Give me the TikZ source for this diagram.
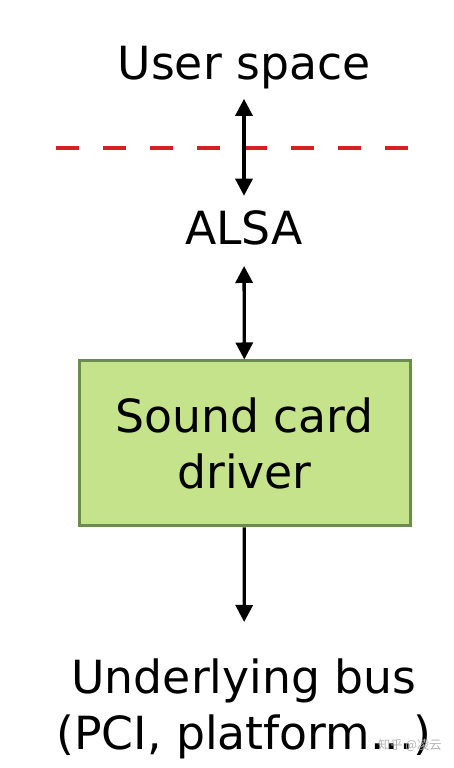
\documentclass[tikz,border=0pt]{standalone}
\usepackage{fontspec}
\setmainfont{DejaVu Sans}
\newfontfamily\cjkfont{Noto Sans CJK SC}
\usetikzlibrary{arrows.meta, positioning}
\definecolor{drivergreen}{RGB}{197, 227, 139}
\definecolor{driverborder}{RGB}{108, 140, 78}
\definecolor{borderred}{RGB}{212, 32, 32}

\begin{document}
\begin{tikzpicture}[
        label/.style={inner sep=0pt, font=\fontsize{26}{32.3}\selectfont, align=center},
        box/.style={rectangle, draw=driverborder, line width=0.06cm, fill=drivergreen, minimum width=6.62cm, minimum height=3.30cm, inner sep=0pt, align=center, font=\fontsize{26}{32.3}\selectfont},
        arrow/.style={-{Triangle[length=0.34cm, width=0.34cm]}, line width=0.066cm},
        biarrow/.style={{Triangle[length=0.34cm, width=0.34cm]}-{Triangle[length=0.34cm, width=0.34cm]}, line width=0.066cm}
    ]
        \useasboundingbox (0,0) rectangle (9.06,15.36);

        % Layers
        \node[label, anchor=base] (user) at (4.88,13.76) {User space};
        \node[label, anchor=base] (alsa) at (4.88,10.46) {ALSA};
        \node[box] (driver) at (4.89,6.49) {Sound card\\driver};
        \node[label, anchor=north] (bus) at (4.88,2.20) {Underlying bus\\(PCI, platform...)};

        % Boundary
        \coordinate (bleft) at (1.12,12.40);
        \coordinate (bright) at (8.20,12.40);
        \draw[borderred, line width=0.08cm, dash pattern=on 0.46cm off 0.48cm] (bleft) -- (bright);

        % Arrows
        \draw[biarrow, shorten <=0.18cm, shorten >=0.30cm] (user) -- (alsa);
        \draw[biarrow, shorten <=0.40cm] (alsa) -- (driver);
        \draw[arrow, shorten >=0.72cm] (driver) -- (bus);

        % Watermark
        \node[inner sep=0pt, anchor=base east, text=gray!60, font=\cjkfont\fontsize{7}{8}\selectfont] (mark) at (8.84,0.36) {知乎 @凌云};
    \end{tikzpicture}
\end{document}
